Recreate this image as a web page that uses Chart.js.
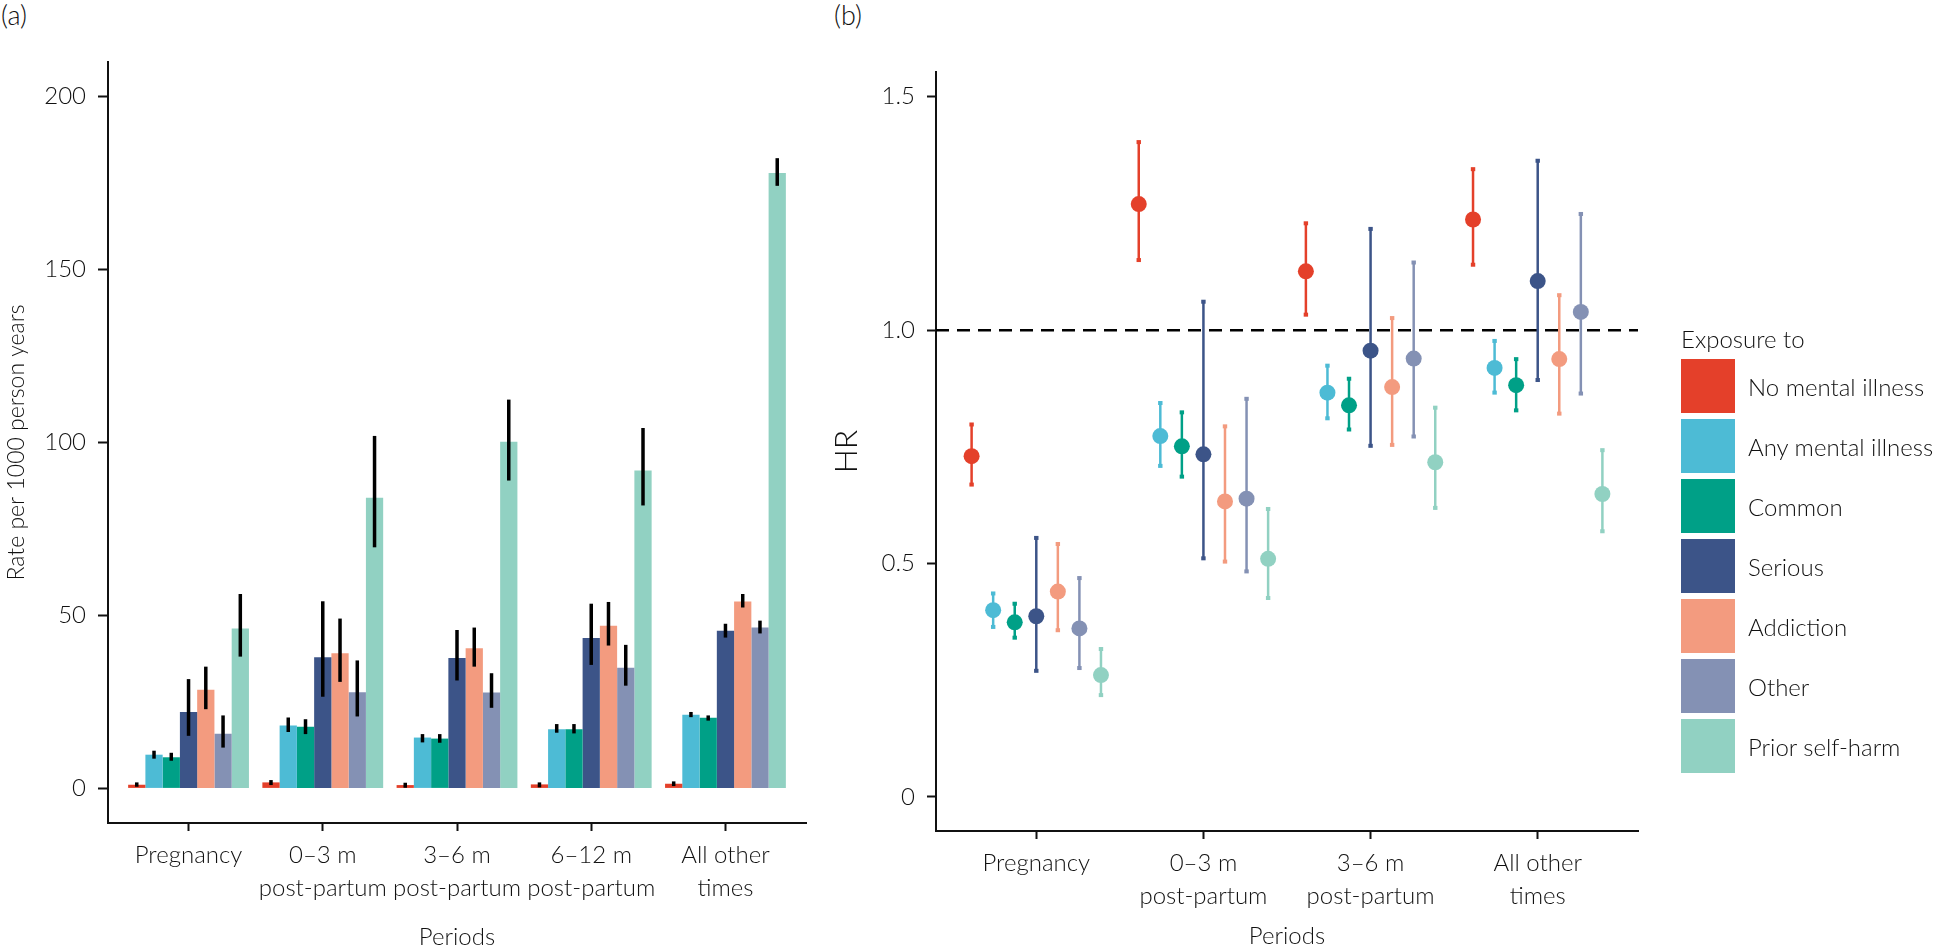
<!DOCTYPE html>
<html>
<head>
<meta charset="utf-8">
<title>Self-harm rates and HR by period</title>
<script src="https://cdn.jsdelivr.net/npm/chart.js@4.4.1/dist/chart.umd.min.js"></script>
<style>
  body { margin: 0; background: #fff; width: 1945px; height: 952px; position: relative; overflow: hidden;
         font-family: Lato, "Liberation Sans", sans-serif; font-weight: 300; color: #111; }
  #wrapA { position: absolute; left: 0; top: 0; width: 820px; height: 952px; }
  #wrapB { position: absolute; left: 820px; top: 0; width: 1125px; height: 952px; }
  .tag { position: absolute; top: 0; font-size: 27px; line-height: 30px; }
  #legend { position: absolute; left: 1681px; top: 327px; }
  #legend .title { font-size: 24px; line-height: 24px; height: 32px; }
  #legend .row { display: flex; align-items: center; height: 54px; margin-bottom: 6px; }
  #legend .swatch { width: 54px; height: 54px; margin-right: 13px; }
  #legend .label { font-size: 24px; }
</style>
</head>
<body>
<div class="tag" style="left:1px">(a)</div>
<div class="tag" style="left:834px">(b)</div>
<div id="wrapA"><canvas id="chartA" width="820" height="952"></canvas></div>
<div id="wrapB"><canvas id="chartB" width="1125" height="952"></canvas></div>
<div id="legend"><div class="title">Exposure to</div><div id="legendRows"></div></div>

<script>
// ---- data ----
const periodsA = [['Pregnancy'], ['0–3 m', 'post-partum'], ['3–6 m', 'post-partum'], ['6–12 m', 'post-partum'], ['All other', 'times']];
const periodsB = [['Pregnancy'], ['0–3 m', 'post-partum'], ['3–6 m', 'post-partum'], ['All other', 'times']];
const exposures = ['No mental illness', 'Any mental illness', 'Common', 'Serious', 'Addiction', 'Other', 'Prior self-harm'];

const yTicksA = [0, 50, 100, 150, 200];
const yTicksB = [0, 0.5, 1.0, 1.5];

// (a) rate per 1000 person years, one array per exposure over the 5 periods
const rateNone      = [1.06, 1.74, 0.96, 1.16, 1.35];
const rateNoneLo    = [0.48, 0.97, 0.19, 0.29, 0.68];
const rateNoneHi    = [1.74, 2.41, 1.64, 1.74, 2.03];
const rateAny       = [9.75, 18.2, 14.7, 17.1, 21.3];
const rateAnyLo     = [8.6, 16.3, 13.3, 16.1, 20.6];
const rateAnyHi     = [10.9, 20.5, 15.7, 18.6, 22.1];
const rateCommon    = [9.0, 17.8, 14.4, 17.1, 20.4];
const rateCommonLo  = [8.0, 15.7, 13.2, 15.9, 19.6];
const rateCommonHi  = [10.3, 20.0, 15.7, 18.6, 21.1];
const rateSerious   = [22.1, 37.9, 37.7, 43.5, 45.6];
const rateSeriousLo = [15.2, 26.5, 31.2, 35.7, 43.6];
const rateSeriousHi = [31.6, 54.1, 45.8, 53.4, 47.6];
const rateAddict    = [28.5, 39.1, 40.5, 47.0, 54.0];
const rateAddictLo  = [22.9, 30.8, 35.2, 41.3, 52.3];
const rateAddictHi  = [35.2, 49.1, 46.5, 53.9, 56.2];
const rateOther     = [15.8, 27.8, 27.7, 34.9, 46.5];
const rateOtherLo   = [11.8, 20.8, 23.3, 29.7, 44.8];
const rateOtherHi   = [21.1, 37.0, 33.3, 41.5, 48.5];
const ratePrior     = [46.2, 84.0, 100.2, 91.9, 177.9];
const ratePriorLo   = [38.1, 69.7, 89.0, 81.8, 174.2];
const ratePriorHi   = [56.2, 101.9, 112.4, 104.2, 182.2];

// (b) hazard ratios over the 4 periods
const hrNone      = [0.730, 1.270, 1.126, 1.237];
const hrNoneLo    = [0.667, 1.148, 1.031, 1.138];
const hrNoneHi    = [0.800, 1.405, 1.231, 1.347];
const hrAny       = [0.400, 0.773, 0.866, 0.919];
const hrAnyLo     = [0.362, 0.707, 0.809, 0.864];
const hrAnyHi     = [0.438, 0.846, 0.926, 0.979];
const hrCommon    = [0.374, 0.751, 0.839, 0.882];
const hrCommonLo  = [0.339, 0.684, 0.785, 0.826];
const hrCommonHi  = [0.416, 0.826, 0.898, 0.940];
const hrSerious   = [0.387, 0.734, 0.956, 1.105];
const hrSeriousLo = [0.268, 0.509, 0.750, 0.891];
const hrSeriousHi = [0.557, 1.063, 1.219, 1.365];
const hrAddict    = [0.440, 0.633, 0.878, 0.938];
const hrAddictLo  = [0.355, 0.502, 0.752, 0.819];
const hrAddictHi  = [0.544, 0.796, 1.028, 1.077];
const hrOther     = [0.361, 0.639, 0.939, 1.039];
const hrOtherLo   = [0.274, 0.481, 0.770, 0.862];
const hrOtherHi   = [0.471, 0.855, 1.147, 1.251];
const hrPrior     = [0.261, 0.510, 0.717, 0.649];
const hrPriorLo   = [0.216, 0.424, 0.617, 0.567];
const hrPriorHi   = [0.319, 0.619, 0.836, 0.745];

// ---- styling ----
const colours = ['#E4402A', '#4DBBD5', '#00A087', '#3C5488', '#F39B7F', '#8491B4', '#91D1C2'];
const ink = '#111';
const fontFamily = 'Lato, "Liberation Sans", sans-serif';
const dodgeStep = 0.129;   // horizontal spacing of the points inside a period in (b)

const rates = [rateNone, rateAny, rateCommon, rateSerious, rateAddict, rateOther, ratePrior];
const ratesLo = [rateNoneLo, rateAnyLo, rateCommonLo, rateSeriousLo, rateAddictLo, rateOtherLo, ratePriorLo];
const ratesHi = [rateNoneHi, rateAnyHi, rateCommonHi, rateSeriousHi, rateAddictHi, rateOtherHi, ratePriorHi];
const hrs = [hrNone, hrAny, hrCommon, hrSerious, hrAddict, hrOther, hrPrior];
const hrsLo = [hrNoneLo, hrAnyLo, hrCommonLo, hrSeriousLo, hrAddictLo, hrOtherLo, hrPriorLo];
const hrsHi = [hrNoneHi, hrAnyHi, hrCommonHi, hrSeriousHi, hrAddictHi, hrOtherHi, hrPriorHi];

function font(size) {
  return { family: fontFamily, size: size, weight: 300, lineHeight: 1.375 };
}

// shared axis look: only left and bottom spines, outward ticks
function axisBase(tickLen) {
  return {
    grid: { drawOnChartArea: false, drawTicks: true, tickLength: tickLen, tickColor: ink, tickWidth: 2, offset: false },
    border: { display: true, color: ink, width: 2 }
  };
}

// black error bars on top of the bars
const rateErrorBars = {
  id: 'rateErrorBars',
  afterDatasetsDraw(chart) {
    const ctx = chart.ctx;
    const y = chart.scales.y;
    ctx.save();
    ctx.strokeStyle = '#000';
    ctx.lineWidth = 3.5;
    chart.data.datasets.forEach(function(ds, i) {
      chart.getDatasetMeta(i).data.forEach(function(bar, j) {
        ctx.beginPath();
        ctx.moveTo(bar.x, y.getPixelForValue(ratesLo[i][j]));
        ctx.lineTo(bar.x, y.getPixelForValue(ratesHi[i][j]));
        ctx.stroke();
      });
    });
    ctx.restore();
  }
};

// dashed reference line at HR = 1 and coloured CI lines behind the points
const hrDecor = {
  id: 'hrDecor',
  beforeDatasetsDraw(chart) {
    const ctx = chart.ctx;
    const y = chart.scales.y;
    const area = chart.chartArea;
    ctx.save();
    ctx.strokeStyle = '#000';
    ctx.lineWidth = 2.5;
    ctx.setLineDash([13, 8]);
    const y1 = y.getPixelForValue(1);
    ctx.beginPath();
    ctx.moveTo(area.left, y1);
    ctx.lineTo(area.right, y1);
    ctx.stroke();
    ctx.setLineDash([]);

    chart.data.datasets.forEach(function(ds, i) {
      ctx.strokeStyle = colours[i];
      ctx.fillStyle = colours[i];
      ctx.lineWidth = 2.5;
      chart.getDatasetMeta(i).data.forEach(function(pt, j) {
        const top = y.getPixelForValue(hrsHi[i][j]);
        const bot = y.getPixelForValue(hrsLo[i][j]);
        ctx.beginPath();
        ctx.moveTo(pt.x, top);
        ctx.lineTo(pt.x, bot);
        ctx.stroke();
        ctx.fillRect(pt.x - 2.2, top - 1, 4.4, 4);
        ctx.fillRect(pt.x - 2.2, bot - 3, 4.4, 4);
      });
    });
    ctx.restore();
  }
};

// ---- (a) bar chart ----
const axA = axisBase(8);
const ayA = axisBase(10);
new Chart(document.getElementById('chartA'), {
  type: 'bar',
  data: {
    datasets: exposures.map(function(name, i) {
      return {
        label: name,
        data: rates[i].map(function(v, j) { return { x: j, y: v }; }),
        backgroundColor: colours[i],
        borderWidth: 0,
        categoryPercentage: 0.9,
        barPercentage: 1.0
      };
    })
  },
  options: {
    responsive: false,
    animation: false,
    layout: { padding: { top: 62, right: 14, left: 0, bottom: 0 } },
    plugins: { legend: { display: false }, tooltip: { enabled: false } },
    scales: {
      x: Object.assign(axA, {
        type: 'linear', offset: false, min: -0.6, max: 4.6,
        afterBuildTicks: function(s) { s.ticks = periodsA.map(function(p, i) { return { value: i }; }); },
        afterFit: function(s) { s.height = 129; },
        ticks: { callback: function(v, i) { return periodsA[i]; }, font: font(24), color: ink, padding: 8, maxRotation: 0, autoSkip: false },
        title: { display: true, text: 'Periods', font: { family: fontFamily, size: 24, weight: 300 }, color: ink, padding: { top: 0, bottom: 0 } }
      }),
      y: Object.assign(ayA, {
        min: -10, max: 210,
        afterBuildTicks: function(s) { s.ticks = yTicksA.map(function(v) { return { value: v }; }); },
        afterFit: function(s) { s.width = 108; },
        ticks: { font: font(24), color: ink, padding: 12 },
        title: { display: true, text: 'Rate per 1000 person years', font: { family: fontFamily, size: 23, weight: 300 }, color: ink, padding: { top: 3, bottom: 0 } }
      })
    }
  },
  plugins: [rateErrorBars]
});

// ---- (b) hazard ratio point plot ----
const axB = axisBase(8);
const ayB = axisBase(9);
new Chart(document.getElementById('chartB'), {
  type: 'scatter',
  data: {
    datasets: exposures.map(function(name, i) {
      return {
        label: name,
        data: hrs[i].map(function(v, j) { return { x: j + (i - 3) * dodgeStep, y: v }; }),
        backgroundColor: colours[i],
        borderWidth: 0,
        pointRadius: 8,
        pointHoverRadius: 8
      };
    })
  },
  options: {
    responsive: false,
    animation: false,
    layout: { padding: { top: 72, right: 307, left: 0, bottom: 0 } },
    plugins: { legend: { display: false }, tooltip: { enabled: false } },
    scales: {
      x: Object.assign(axB, {
        type: 'linear', min: -0.6, max: 3.6,
        afterBuildTicks: function(s) { s.ticks = periodsB.map(function(p, i) { return { value: i }; }); },
        afterFit: function(s) { s.height = 121; },
        ticks: { callback: function(v, i) { return periodsB[i]; }, font: font(24), color: ink, padding: 8, maxRotation: 0, autoSkip: false },
        title: { display: true, text: 'Periods', font: { family: fontFamily, size: 24, weight: 300 }, color: ink, padding: { top: 0, bottom: 1 } }
      }),
      y: Object.assign(ayB, {
        min: -0.073, max: 1.553,
        afterBuildTicks: function(s) { s.ticks = yTicksB.map(function(v) { return { value: v }; }); },
        afterFit: function(s) { s.width = 116; },
        ticks: { font: font(24), color: ink, padding: 12,
                 callback: function(v) { return v === 0 ? '0' : v.toFixed(1); } },
        title: { display: true, text: 'HR', font: { family: fontFamily, size: 32, weight: 300 }, color: ink, padding: { top: 7, bottom: 0 } }
      })
    }
  },
  plugins: [hrDecor]
});

// ---- legend for the exposures ----
const rows = document.getElementById('legendRows');
exposures.forEach(function(name, i) {
  const row = document.createElement('div');
  row.className = 'row';
  const sw = document.createElement('div');
  sw.className = 'swatch';
  sw.style.background = colours[i];
  const lab = document.createElement('div');
  lab.className = 'label';
  lab.textContent = name;
  row.appendChild(sw);
  row.appendChild(lab);
  rows.appendChild(row);
});
</script>
</body>
</html>
